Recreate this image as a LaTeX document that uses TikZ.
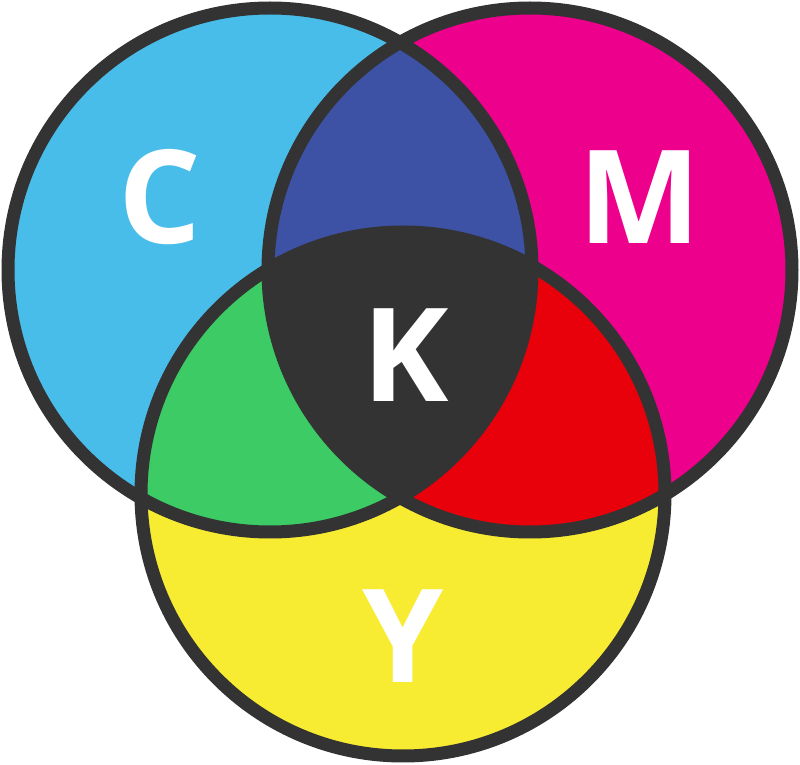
\documentclass[tikz,border=0pt]{standalone}
\usepackage{fontspec}
\setmainfont{Open Sans}
\definecolor{cyanC}{HTML}{49BDE9}
\definecolor{magentaM}{HTML}{EC008C}
\definecolor{yellowY}{HTML}{F7EC32}
\definecolor{blueCM}{HTML}{3D52A4}
\definecolor{greenCY}{HTML}{3CCB64}
\definecolor{redMY}{HTML}{E8000B}
\definecolor{keyK}{HTML}{333333}
\tikzset{letter/.style={text=white, inner sep=0pt, font=\fontsize{65pt}{65pt}\selectfont\bfseries}}
\begin{document}
\begin{tikzpicture}[x=0.5pt,y=-0.5pt,line join=round]
 \def\r{131pt}
 \useasboundingbox (0,0) rectangle (800,765);
 \coordinate (c) at (270,270);
 \coordinate (m) at (530,270);
 \coordinate (y) at (403,494);
 % base discs
 \fill[cyanC] (c) circle (\r);
 \fill[magentaM] (m) circle (\r);
 \fill[yellowY] (y) circle (\r);
 % overlaps
 \begin{scope}
  \clip (c) circle (\r);
  \fill[blueCM] (m) circle (\r);
  \fill[greenCY] (y) circle (\r);
 \end{scope}
 \begin{scope}
  \clip (m) circle (\r);
  \fill[redMY] (y) circle (\r);
  \clip (c) circle (\r);
  \fill[keyK] (y) circle (\r);
 \end{scope}
 % outlines
 \foreach \p in {c,m,y} \draw[line width=6.5pt, keyK] (\p) circle (\r);
 \node[letter] (lc) at (160,197) {C};
 \node[letter] (lm) at (640,197) {M};
 \node[letter] (lk) at (406,355) {K};
 \node[letter] (ly) at (403,636) {Y};
\end{tikzpicture}
\end{document}
